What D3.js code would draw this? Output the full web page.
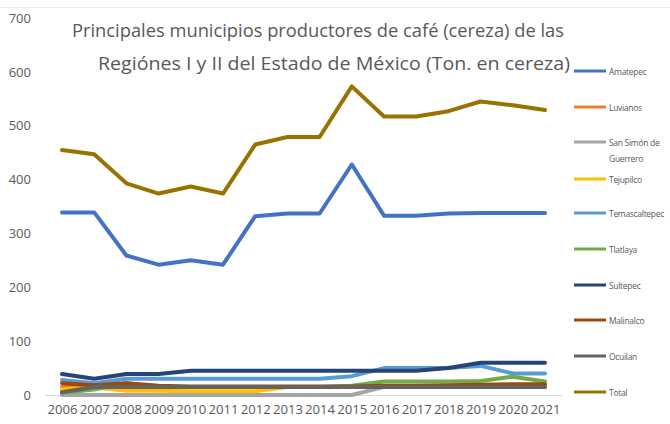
<!DOCTYPE html>
<html>
<head>
<meta charset="utf-8">
<script src="https://cdn.jsdelivr.net/npm/d3@7"></script>
<style>
  body { margin: 0; background: #fff; }
  svg text { font-family: "Open Sans", "Noto Sans", sans-serif; fill: #595959; }
</style>
</head>
<body>
<div id="chart"></div>
<script>
const years = [2006, 2007, 2008, 2009, 2010, 2011, 2012, 2013, 2014, 2015, 2016, 2017, 2018, 2019, 2020, 2021];
const yTicks = [0, 100, 200, 300, 400, 500, 600, 700];

const amatepec      = [339, 339, 259, 242, 250, 242, 332, 337, 337, 428, 333, 333, 337, 338, 338, 338];
const luvianos      = [15, 15, 15, 15, 15, 15, 15, 15, 15, 15, 15, 15, 15, 15, 15, 15];
const sanSimon      = [0, 0, 0, 0, 0, 0, 0, 0, 0, 0, 15, 15, 15, 15, 15, 15];
const tejupilco     = [10, 14, 8, 8, 7, 7, 7, 15, 15, 15, 15, 15, 15, 15, 15, 15];
const temascaltepec = [28, 22, 30, 30, 30, 30, 30, 30, 30, 35, 50, 50, 50, 54, 40, 40];
const tlatlaya      = [4, 10, 22, 15, 15, 15, 15, 15, 15, 17, 25, 25, 25, 26, 34, 25];
const sultepec      = [39, 30, 39, 39, 45, 45, 45, 45, 45, 45, 45, 45, 50, 60, 60, 60];
const malinalco     = [22, 18, 22, 17, 16, 16, 16, 16, 16, 16, 17, 17, 18, 19, 20, 20];
const ocuilan       = [5, 15, 15, 15, 15, 15, 15, 15, 15, 15, 15, 15, 15, 15, 15, 15];
const total         = [455, 447, 393, 374, 387, 374, 465, 479, 479, 573, 517, 517, 527, 545, 538, 529];

const seriesNames = ["Amatepec", "Luvianos", "San Simón de Guerrero", "Tejupilco", "Temascaltepec",
                     "Tlatlaya", "Sultepec", "Malinalco", "Ocuilan", "Total"];
const seriesValues = [amatepec, luvianos, sanSimon, tejupilco, temascaltepec,
                      tlatlaya, sultepec, malinalco, ocuilan, total];
const seriesColors = ["#4472C4", "#ED7D31", "#A5A5A5", "#FFC000", "#5B9BD5",
                      "#70AD47", "#264478", "#9E480E", "#636363", "#997300"];

const w = 670, h = 424;
const svg = d3.select('#chart').append('svg').attr('width', w).attr('height', h);

// faint chart border at top
svg.append('line').attr('x1', 0).attr('x2', w).attr('y1', 7.5).attr('y2', 7.5)
   .attr('stroke', '#ececec').attr('stroke-width', 1);

const xScale = d3.scalePoint().domain(years).range([62, 545]);
const yScale = d3.scaleLinear().domain([0, 700]).range([395, 18]);

// y axis labels (no line)
const yAxis = d3.axisLeft(yScale).tickValues(yTicks).tickSize(0).tickPadding(0);
const yg = svg.append('g').attr('transform', 'translate(31,0)').call(yAxis);
yg.select('.domain').remove();
yg.selectAll('text').style('font-size', '13px').attr('fill', '#595959');

// x axis
const xAxis = d3.axisBottom(xScale).tickSize(0).tickPadding(10);
const xg = svg.append('g').attr('transform', 'translate(0,395)').call(xAxis);
xg.select('.domain').remove();
xg.selectAll('text').style('font-size', '12.5px').attr('fill', '#595959')
  .attr('textLength', 30).attr('lengthAdjust', 'spacingAndGlyphs');
svg.append('line').attr('x1', 45).attr('x2', 562).attr('y1', 395.5).attr('y2', 395.5)
   .attr('stroke', '#d9d9d9').attr('stroke-width', 1);

// lines
const line = d3.line().x((d, i) => xScale(years[i])).y(d => yScale(d));
svg.append('g').selectAll('path')
   .data(seriesValues)
   .enter()
   .append('path')
   .attr('d', d => line(d))
   .attr('fill', 'none')
   .attr('stroke', (d, i) => seriesColors[i])
   .attr('stroke-width', 4)
   .attr('stroke-linejoin', 'round')
   .attr('stroke-linecap', 'round');

// title
const title = svg.append('g');
title.append('text').attr('x', 318).attr('y', 37).attr('text-anchor', 'middle')
     .style('font-size', '19px').attr('textLength', 492).attr('lengthAdjust', 'spacingAndGlyphs')
     .text('Principales municipios productores de café (cereza) de las');
title.append('text').attr('x', 334).attr('y', 70).attr('text-anchor', 'middle')
     .style('font-size', '19px').attr('textLength', 472).attr('lengthAdjust', 'spacingAndGlyphs')
     .text('Regiónes I y II del Estado de México (Ton. en cereza)');

// legend
const legendY = [71, 107, 142, 179, 213, 249, 285, 320, 356, 392];
const legend = svg.append('g').selectAll('g')
   .data(seriesNames)
   .enter()
   .append('g')
   .attr('transform', (d, i) => `translate(574, ${legendY[i]})`);
legend.append('line').attr('x1', 0).attr('x2', 32).attr('y1', 0).attr('y2', 0)
   .attr('stroke', (d, i) => seriesColors[i]).attr('stroke-width', 3);
legend.append('text').attr('x', 35).attr('y', 3.5)
   .style('font-size', '8.5px').style('letter-spacing', '-0.3px').attr('fill', '#595959')
   .each(function(d) {
     const t = d3.select(this);
     if (d === 'San Simón de Guerrero') {
       t.append('tspan').attr('x', 35).attr('dy', 0).text('San Simón de');
       t.append('tspan').attr('x', 35).attr('dy', 16).text('Guerrero');
     } else {
       t.text(d);
     }
   });
</script>
</body>
</html>
